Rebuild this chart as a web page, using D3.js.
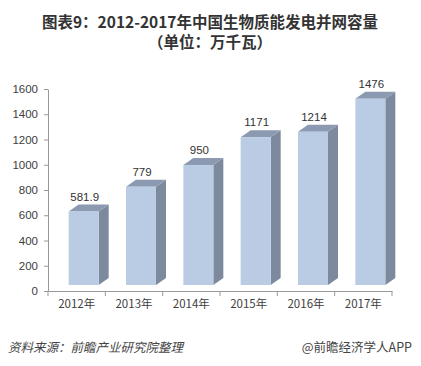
<!DOCTYPE html>
<html><head><meta charset="utf-8">
<script src="https://cdn.jsdelivr.net/npm/d3@7"></script>
<style>body{margin:0;background:#fff}svg{display:block}</style>
</head><body><svg id="c" width="421" height="366"></svg>
<script>
const categories = ["2012年","2013年","2014年","2015年","2016年","2017年"];
const values = [581.9, 779, 950, 1171, 1214, 1476];
const valueLabels = ["581.9","779","950","1171","1214","1476"];
const yTicks = [0,200,400,600,800,1000,1200,1400,1600];

const svg = d3.select("#c");
const font = "'Microsoft YaHei','Noto Sans CJK SC',sans-serif";
const x = d3.scaleBand().domain(categories).range([48, 392]).paddingInner(0).paddingOuter(0);
const y = d3.scaleLinear().domain([0,1600]).range([291, 89]);

svg.append("text").attr("x",210).attr("y",28).attr("text-anchor","middle")
  .attr("font-family",font).attr("font-weight","bold").attr("font-size",15.5).attr("fill","#333")
  .text("图表9：2012-2017年中国生物质能发电并网容量");
svg.append("text").attr("x",210).attr("y",48).attr("text-anchor","middle")
  .attr("font-family",font).attr("font-weight","bold").attr("font-size",15.5).attr("fill","#333")
  .text("（单位：万千瓦）");

// y axis
const yAxis = d3.axisLeft(y).tickValues(yTicks).tickFormat(d3.format("d")).tickSize(4).tickSizeOuter(0);
const gy = svg.append("g").attr("transform","translate(48,0)").call(yAxis);
gy.select(".domain").attr("stroke","#999");
gy.selectAll(".tick line").attr("stroke","#999");
gy.selectAll(".tick text").attr("font-family","Arial, 'Liberation Sans', sans-serif").attr("font-size",11.5).attr("fill","#404040").attr("x",-10);

// x axis
const xAxis = d3.axisBottom(x).tickSize(0).tickSizeOuter(0);
const gx = svg.append("g").attr("transform","translate(0,291)").call(xAxis);
gx.select(".domain").attr("stroke","#999");
gx.selectAll(".tick text").attr("font-family",font).attr("font-size",11.5).attr("fill","#404040").attr("dy","0.6em").attr("y",10);
const edges = categories.map(c=>x(c)).concat([x(categories[categories.length-1])+x.bandwidth()]);
svg.append("g").selectAll("line").data(edges).join("line")
  .attr("x1",d=>d).attr("x2",d=>d).attr("y1",291).attr("y2",296).attr("stroke","#999");

// 3D bars
const fw = 30, dx = 10, dy = 7, lift = 6;
const bars = svg.append("g");
categories.forEach((c,i)=>{
  const x0 = x(c) + x.bandwidth()/2 - fw/2 + 7;
  const x1 = x0 + fw;
  const yt = y(values[i]) - lift;
  const yb = y(0) - lift;
  bars.append("path").attr("d",`M${x1},${yt}L${x1+dx},${yt-dy}L${x1+dx},${yb-dy}L${x1},${yb}Z`).attr("fill","#7d8a9e");
  bars.append("path").attr("d",`M${x0},${yt}L${x0+dx},${yt-dy}L${x1+dx},${yt-dy}L${x1},${yt}Z`).attr("fill","#8b9ab0");
  bars.append("rect").attr("x",x0).attr("y",yt).attr("width",fw).attr("height",yb-yt).attr("fill","#b9cce4");
  svg.append("text").attr("x",x0+fw/2+1).attr("y",yt-dy-4).attr("text-anchor","middle")
    .attr("font-family","Arial, 'Liberation Sans', sans-serif").attr("font-size",11.5).attr("fill","#333")
    .text(valueLabels[i]);
});

svg.append("text").attr("x",8).attr("y",352).attr("font-family",font).attr("font-style","italic")
  .attr("font-size",12.5).attr("fill","#444").text("资料来源：前瞻产业研究院整理");
svg.append("text").attr("x",412).attr("y",352).attr("text-anchor","end").attr("font-family",font)
  .attr("font-size",12.5).attr("fill","#444").text("@前瞻经济学人APP");
</script></body></html>
